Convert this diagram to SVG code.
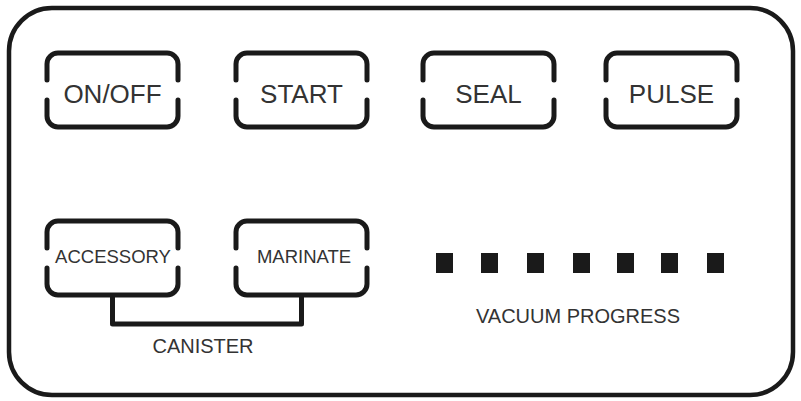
<svg xmlns="http://www.w3.org/2000/svg" width="801" height="401" viewBox="0 0 801 401">
<defs>
<style>
.frame{fill:none;stroke:#1a1a1a;stroke-width:4.5}
.br{fill:none;stroke:#1a1a1a;stroke-width:5;stroke-linecap:round;stroke-linejoin:round}
.big{font-family:"Liberation Sans",Arial,sans-serif;font-size:26px;fill:#333;text-anchor:middle}
.small{font-family:"Liberation Sans",Arial,sans-serif;font-size:18.5px;fill:#333;text-anchor:middle}
.lbl{font-family:"Liberation Sans",Arial,sans-serif;font-size:20px;fill:#333;text-anchor:middle}
.led{fill:#1a1a1a}
.conn{fill:none;stroke:#1a1a1a;stroke-width:5;stroke-linejoin:round}
</style>
<g id="bracket" fill="none" stroke="#1a1a1a" stroke-width="5" stroke-linecap="round" stroke-linejoin="round">
<path d="M0,27 V11 A11 11 0 0 1 11,0 H120 A11 11 0 0 1 131,11 V27"/>
<path d="M0,47 V63 A11 11 0 0 0 11,74 H120 A11 11 0 0 0 131,63 V47"/>
</g>
</defs>
<rect class="frame" x="9" y="8" width="784" height="387" rx="43" ry="43"/>
<g id="btn-onoff" transform="translate(47,53)">
<use href="#bracket"/>
<text class="big" x="65.5" y="50">ON/OFF</text>
</g>
<g id="btn-start" transform="translate(236,53)">
<use href="#bracket"/>
<text class="big" x="65.5" y="50">START</text>
</g>
<g id="btn-seal" transform="translate(423,53)">
<use href="#bracket"/>
<text class="big" x="65.5" y="50">SEAL</text>
</g>
<g id="btn-pulse" transform="translate(606,53)">
<use href="#bracket"/>
<text class="big" x="65.5" y="50">PULSE</text>
</g>
<g id="btn-accessory" transform="translate(47,221)">
<use href="#bracket"/>
<text class="small" x="66" y="42">ACCESSORY</text>
</g>
<g id="btn-marinate" transform="translate(236,221)">
<use href="#bracket"/>
<text class="small" x="68" y="42">MARINATE</text>
</g>
<g id="connectors">
<path class="conn" d="M112.5,295 V324 H301.5 V295"/>
</g>
<g id="canister-label">
<text class="lbl" x="203" y="353">CANISTER</text>
</g>
<g id="vacuum-progress">
<rect class="led" x="436" y="253" width="17" height="20"/>
<rect class="led" x="481" y="253" width="17" height="20"/>
<rect class="led" x="527" y="253" width="17" height="20"/>
<rect class="led" x="573" y="253" width="17" height="20"/>
<rect class="led" x="617" y="253" width="17" height="20"/>
<rect class="led" x="661" y="253" width="17" height="20"/>
<rect class="led" x="707" y="253" width="17" height="20"/>
<text class="lbl" x="578" y="323">VACUUM PROGRESS</text>
</g>
</svg>
